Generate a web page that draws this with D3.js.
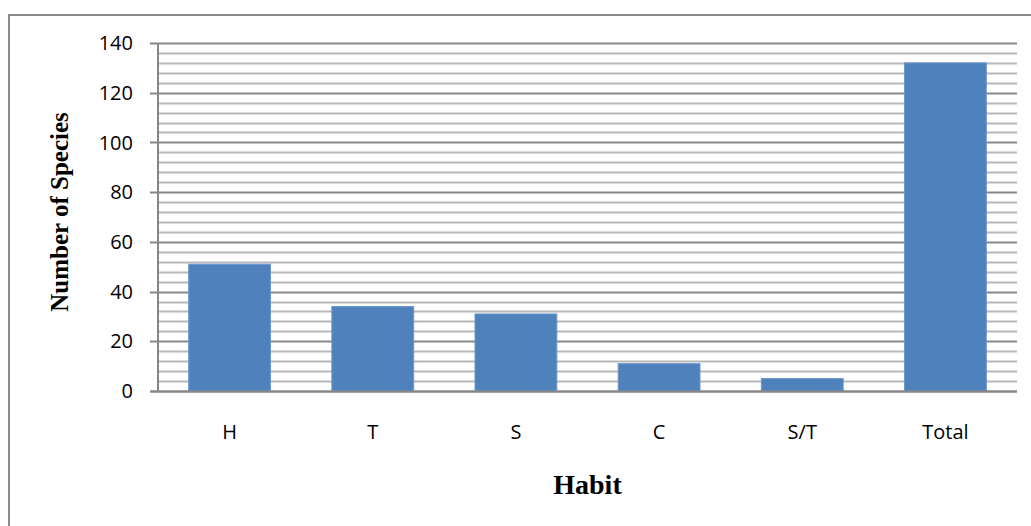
<!DOCTYPE html>
<meta charset="utf-8">
<style>
body { margin: 0; background: #fff; }
.tick-label { font: 20px "Open Sans", sans-serif; fill: #000; }
.title { font-family: "Liberation Serif", "Times New Roman", serif; font-weight: bold; fill: #000; }
</style>
<svg width="1031" height="526"></svg>
<script src="https://cdn.jsdelivr.net/npm/d3@7"></script>
<script>

var categories = ["H", "T", "S", "C", "S/T", "Total"];
var species = [51, 34, 31, 11, 5, 132];
var yTicks = [0, 20, 40, 60, 80, 100, 120, 140];

var svg = d3.select("svg");

// chart frame (only left and top edges fall inside the picture)
svg.append("rect")
    .attr("x", 9).attr("y", 15)
    .attr("width", 1040).attr("height", 530)
    .attr("fill", "none")
    .attr("stroke", "#8c8c8c")
    .attr("stroke-width", 2);

var plotLeft = 158, plotRight = 1017, plotTop = 43, plotBottom = 391;

var x = d3.scaleBand().domain(categories).range([plotLeft, plotRight]);
var y = d3.scaleLinear().domain([0, 140]).range([plotBottom, plotTop]);

// minor gridlines every 4
var minor = d3.range(4, 141, 4).filter(function(v) { return v % 20 != 0; });
svg.append("g").selectAll("line")
    .data(minor)
  .enter().append("line")
    .attr("x1", plotLeft).attr("x2", plotRight)
    .attr("y1", function(d) { return Math.round(y(d)) + 0.5; })
    .attr("y2", function(d) { return Math.round(y(d)) + 0.5; })
    .attr("stroke", "#b8b8b8")
    .attr("stroke-width", 2);

// major gridlines + tick marks
svg.append("g").selectAll("line")
    .data(yTicks)
  .enter().append("line")
    .attr("x1", plotLeft - 8).attr("x2", plotRight)
    .attr("y1", function(d) { return Math.round(y(d)) + 0.5; })
    .attr("y2", function(d) { return Math.round(y(d)) + 0.5; })
    .attr("stroke", "#878787")
    .attr("stroke-width", 2);

// y axis line
svg.append("line")
    .attr("x1", plotLeft).attr("x2", plotLeft)
    .attr("y1", plotTop).attr("y2", plotBottom + 1)
    .attr("stroke", "#878787")
    .attr("stroke-width", 2);

// bars: Excel gap width 75%
var barW = x.bandwidth() / 1.75;
svg.append("g").selectAll("rect")
    .data(categories)
  .enter().append("rect")
    .attr("x", function(d) { return x(d) + (x.bandwidth() - barW) / 2; })
    .attr("y", function(d, i) { return y(species[i]); })
    .attr("width", barW)
    .attr("height", function(d, i) { return y(0) - y(species[i]); })
    .attr("fill", "#4f81bd")
    .attr("stroke", "#6d97cc")
    .attr("stroke-width", 1);

// redraw baseline above bars
svg.append("line")
    .attr("x1", plotLeft - 8).attr("x2", plotRight)
    .attr("y1", Math.round(y(0)) + 0.5).attr("y2", Math.round(y(0)) + 0.5)
    .attr("stroke", "#878787")
    .attr("stroke-width", 2);

// y tick labels
svg.append("g").selectAll("text")
    .data(yTicks)
  .enter().append("text")
    .attr("class", "tick-label")
    .attr("x", 133)
    .attr("y", function(d) { return y(d); })
    .attr("dy", "0.36em")
    .attr("text-anchor", "end")
    .text(function(d) { return d; });

// x tick labels
svg.append("g").selectAll("text")
    .data(categories)
  .enter().append("text")
    .attr("class", "tick-label")
    .attr("x", function(d) { return x(d) + x.bandwidth() / 2; })
    .attr("y", 439)
    .attr("text-anchor", "middle")
    .text(function(d) { return d; });

// axis titles
svg.append("text")
    .attr("class", "title")
    .attr("transform", "translate(68,212) rotate(-90)")
    .attr("text-anchor", "middle")
    .style("font-size", "25px")
    .text("Number of Species");

svg.append("text")
    .attr("class", "title")
    .attr("x", (plotLeft + plotRight) / 2)
    .attr("y", 494)
    .attr("text-anchor", "middle")
    .style("font-size", "28px")
    .text("Habit");

</script>
